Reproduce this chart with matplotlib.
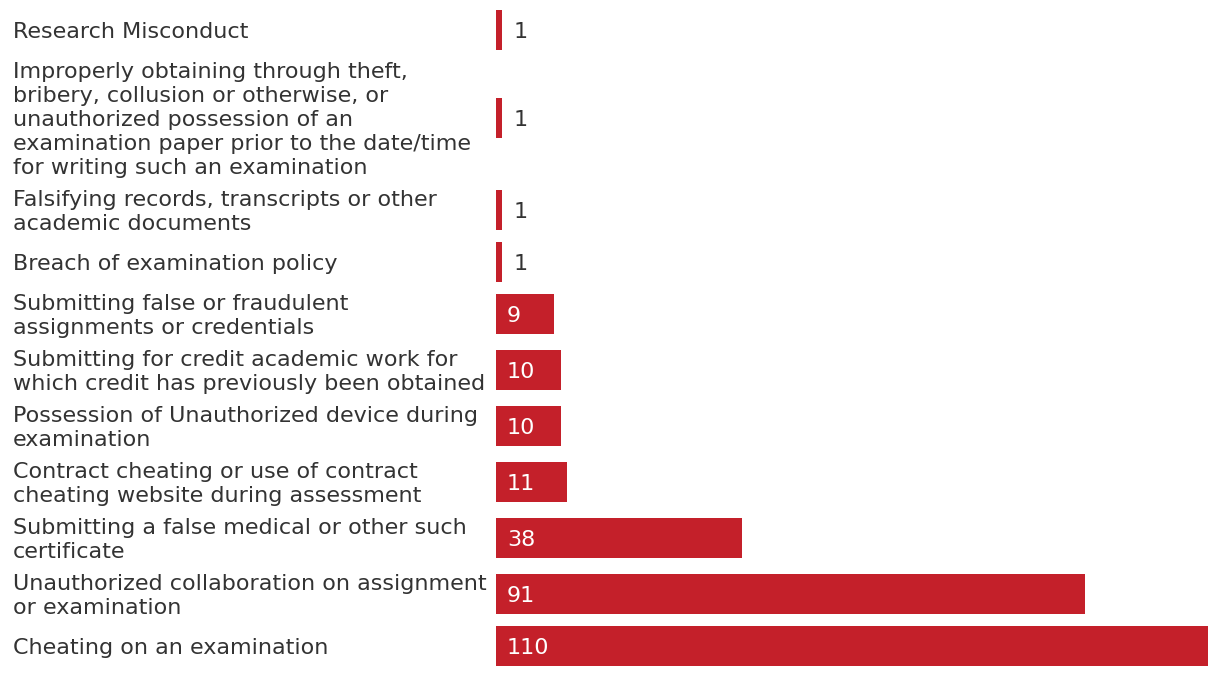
import matplotlib.pyplot as plt
import numpy as np

# categories top -> bottom, as they appear in the chart
categories = [
    "Research Misconduct",
    "Improperly obtaining through theft,\nbribery, collusion or otherwise, or\nunauthorized possession of an\nexamination paper prior to the date/time\nfor writing such an examination",
    "Falsifying records, transcripts or other\nacademic documents",
    "Breach of examination policy",
    "Submitting false or fraudulent\nassignments or credentials",
    "Submitting for credit academic work for\nwhich credit has previously been obtained",
    "Possession of Unauthorized device during\nexamination",
    "Contract cheating or use of contract\ncheating website during assessment",
    "Submitting a false medical or other such\ncertificate",
    "Unauthorized collaboration on assignment\nor examination",
    "Cheating on an examination",
]
counts = [1, 1, 1, 1, 9, 10, 10, 11, 38, 91, 110]

bar_color = "#c4202a"
text_color = "#333333"
plt.rcParams['font.family'] = ['DejaVu Sans']

# row heights (in px) depend on how many lines the label has
line_px = 24
bar_px = 40
row_h = np.array([max(bar_px, line_px * (c.count("\n") + 1)) + 8 for c in categories])
tops = np.concatenate([[0], np.cumsum(row_h)[:-1]])
centers = tops + row_h / 2
total = row_h.sum()

W, H = 1220, 676
fig = plt.figure(figsize=(W / 100, H / 100), dpi=100)
ax = fig.add_axes([496 / W, (H - 6 - total) / H, 712 / W, total / H])
ax.barh(centers, counts, height=bar_px, color=bar_color)
ax.set_xlim(0, 110)
ax.set_ylim(total, 0)
ax.axis("off")

px_per_unit = 712 / 110
fs = 16
for c, v, lab in zip(centers, counts, categories):
    ax.text(-483 / px_per_unit, c + 2, lab, ha="left", va="center", fontsize=fs,
            color=text_color, linespacing=1.24)
    if v >= 5:
        ax.text(11 / px_per_unit, c + 2, str(v), ha="left", va="center", fontsize=fs, color="white")
    else:
        ax.text(v + 11 / px_per_unit, c + 2, str(v), ha="left", va="center", fontsize=fs, color=text_color)

fig.savefig("out.png", dpi=100)
